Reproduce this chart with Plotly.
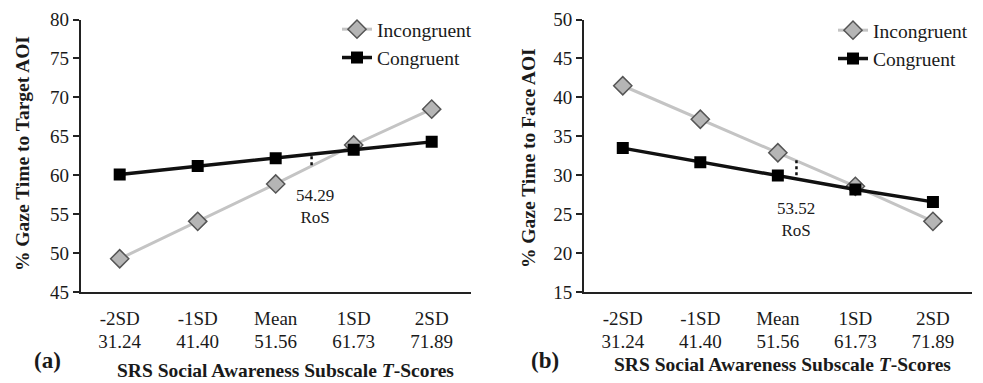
import plotly.graph_objects as go

# ---- data ----
sd_labels = ["-2SD", "-1SD", "Mean", "1SD", "2SD"]
t_scores = ["31.24", "41.40", "51.56", "61.73", "71.89"]

target_incongruent = [49.3, 54.1, 58.9, 63.9, 68.5]
target_congruent = [60.1, 61.2, 62.2, 63.3, 64.3]

face_incongruent = [41.5, 37.2, 32.9, 28.6, 24.1]
face_congruent = [33.5, 31.7, 30.0, 28.2, 26.6]

ros_a_label = "54.29<br>RoS"
ros_b_label = "53.52<br>RoS"
# position of the RoS marker (category-index units) and its span
ros_a_x, ros_a_y = 2.46, (62.45, 61.05)
ros_b_x, ros_b_y = 2.24, (31.95, 29.85)

y_ticks_a = [45, 50, 55, 60, 65, 70, 75, 80]
y_ticks_b = [15, 20, 25, 30, 35, 40, 45, 50]

FONT = "Liberation Serif, Times New Roman, serif"
OFF = 8  # default body margin of the page
W, H = 983 - OFF, 383 - OFF


def px(x):
    return (x - OFF) / W


def py(y):
    return 1 - (y - OFF) / H


idx = list(range(len(sd_labels)))

fig = go.Figure()


def add_panel(xa, ya, xa_row2, legend, inc, con):
    fig.add_trace(go.Scatter(
        x=idx, y=inc, mode="lines+markers", name="Incongruent",
        xaxis=xa, yaxis=ya, legend=legend,
        line=dict(color="#c4c4c4", width=3),
        marker=dict(symbol="diamond", size=14, color="#b5b5b5",
                    line=dict(color="#555555", width=1.5)),
    ))
    fig.add_trace(go.Scatter(
        x=idx, y=con, mode="lines+markers", name="Congruent",
        xaxis=xa, yaxis=ya, legend=legend,
        line=dict(color="#111111", width=3.5),
        marker=dict(symbol="square", size=12, color="#000000"),
    ))
    # carrier for the second row of tick labels (T-scores); invisible
    fig.add_trace(go.Scatter(
        x=idx, y=con, mode="markers", xaxis=xa_row2, yaxis=ya,
        marker=dict(opacity=0), showlegend=False, hoverinfo="skip",
    ))


add_panel("x", "y", "x3", "legend", target_incongruent, target_congruent)
add_panel("x2", "y2", "x4", "legend2", face_incongruent, face_congruent)

tickfont = dict(family=FONT, size=19, color="#1a1a1a")
axis_common = dict(showgrid=False, zeroline=False, automargin=False,
                   tickfont=tickfont)
line_common = dict(showline=True, linecolor="#222222", linewidth=2)
ybot = py(292.3)
ytop = py(19.5)
dom_a = [px(80.7), px(470.7)]
dom_b = [px(584), px(971.7)]
ROW1, ROW2 = 8, 36

fig.update_layout(
    width=W, height=H, margin=dict(l=0, r=0, t=0, b=0, autoexpand=False),
    paper_bgcolor="white", plot_bgcolor="white",
    xaxis=dict(domain=dom_a, range=[-0.5, 4.5], anchor="y",
               tickvals=idx, ticktext=sd_labels, ticks="", ticklabelstandoff=ROW1,
               **axis_common, **line_common),
    xaxis3=dict(domain=dom_a, range=[-0.5, 4.5], anchor="y", overlaying="x",
                tickvals=idx, ticktext=t_scores, ticks="", ticklabelstandoff=ROW2,
                showline=False, **axis_common),
    yaxis=dict(domain=[ybot, ytop], range=[45, 80], tickvals=y_ticks_a,
               ticks="outside", ticklen=6, tickwidth=1.5, tickcolor="#222222",
               **axis_common, **line_common),
    xaxis2=dict(domain=dom_b, range=[-0.5, 4.5], anchor="y2",
                tickvals=idx, ticktext=sd_labels, ticks="", ticklabelstandoff=ROW1,
                **axis_common, **line_common),
    xaxis4=dict(domain=dom_b, range=[-0.5, 4.5], anchor="y2", overlaying="x2",
                tickvals=idx, ticktext=t_scores, ticks="", ticklabelstandoff=ROW2,
                showline=False, **axis_common),
    yaxis2=dict(domain=[ybot, ytop], range=[15, 50], tickvals=y_ticks_b,
                anchor="x2", ticks="outside", ticklen=6, tickwidth=1.5,
                tickcolor="#222222", **axis_common, **line_common),
    legend=dict(x=px(337), y=py(10), xanchor="left", yanchor="top",
                bgcolor="rgba(0,0,0,0)",
                font=dict(family=FONT, size=19.5, color="#1a1a1a"),
                tracegroupgap=0),
    legend2=dict(x=px(833), y=py(11), xanchor="left", yanchor="top",
                 bgcolor="rgba(0,0,0,0)",
                 font=dict(family=FONT, size=19.5, color="#1a1a1a"),
                 tracegroupgap=0),
    showlegend=True,
)

# RoS dotted markers
for xa, ya, xv, (y0, y1) in [("x", "y", ros_a_x, ros_a_y), ("x2", "y2", ros_b_x, ros_b_y)]:
    fig.add_shape(type="line", xref=xa, yref=ya, x0=xv, x1=xv, y0=y0, y1=y1,
                  line=dict(color="#111111", width=2.5, dash="dot"))

fig.add_annotation(xref="x", yref="y", x=2.5, y=56.05, text=ros_a_label,
                   showarrow=False, xanchor="center", yanchor="middle",
                   font=dict(family=FONT, size=17, color="#1a1a1a"))
fig.add_annotation(xref="x2", yref="y2", x=2.24, y=24.35, text=ros_b_label,
                   showarrow=False, xanchor="center", yanchor="middle",
                   font=dict(family=FONT, size=17, color="#1a1a1a"))

# axis titles and panel labels
bold = dict(family=FONT, size=19.5, color="#1a1a1a")


def paper_text(x, y, text, font, angle=0):
    fig.add_annotation(xref="paper", yref="paper", x=px(x), y=py(y),
                       text=text, textangle=angle, showarrow=False,
                       xanchor="center", yanchor="middle", font=font)


paper_text(22, 154, "<b>% Gaze Time to Target AOI</b>", bold, -90)
paper_text(528, 158, "<b>% Gaze Time to Face AOI</b>", bold, -90)
paper_text(285, 370, "<b>SRS Social Awareness Subscale <i>T</i>-Scores</b>", bold)
paper_text(782, 364, "<b>SRS Social Awareness Subscale <i>T</i>-Scores</b>", bold)
paper_text(47, 360, "<b>(a)</b>", dict(family=FONT, size=23, color="#1a1a1a"))
paper_text(545, 360, "<b>(b)</b>", dict(family=FONT, size=23, color="#1a1a1a"))

fig.write_html("out.html")
